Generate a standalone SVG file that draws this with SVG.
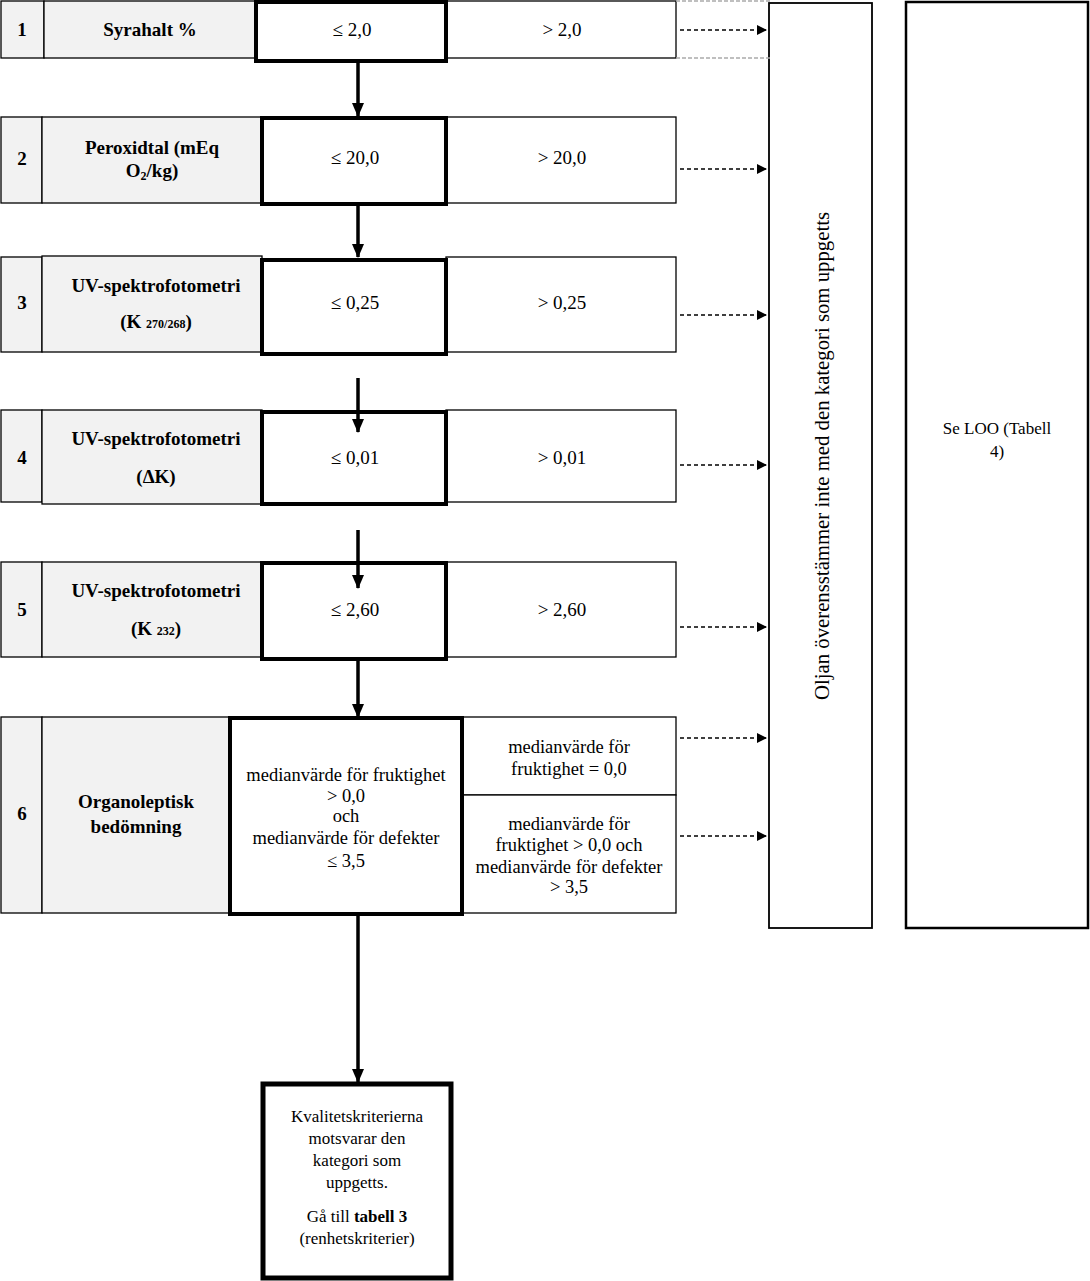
<svg xmlns="http://www.w3.org/2000/svg" width="1090" height="1281" viewBox="0 0 1090 1281">
<style>
text{font-family:"Liberation Serif","Times New Roman",serif;fill:#000;text-anchor:middle}
.b{font-weight:bold}
.t17{font-size:17px}
.t19{font-size:19px}
.t18{font-size:18.5px}
.t14{font-size:18.5px}
.num{fill:#f2f2f2;stroke:#000;stroke-width:1.3}
.lab{fill:#f2f2f2;stroke:#000;stroke-width:1.3}
.cell{fill:#fff;stroke:#000;stroke-width:1.3}
.bold{fill:#fff;stroke:#000;stroke-width:4}
.dash{stroke:#000;stroke-width:1.3;stroke-dasharray:4,3;fill:none}
.gd{stroke:#aaa;stroke-width:1.3;stroke-dasharray:4,2;fill:none}
.flow{stroke:#000;stroke-width:3.5;fill:none}
</style>
<defs>
<marker id="ah" markerWidth="10" markerHeight="10" refX="9" refY="5" orient="auto" markerUnits="userSpaceOnUse">
<path d="M0,0 L10,5 L0,10 Z" fill="#000"/>
</marker>
<marker id="big" markerWidth="14" markerHeight="14" refX="13" refY="7" orient="auto" markerUnits="userSpaceOnUse">
<path d="M0,1 L14,7 L0,13 Z" fill="#000"/>
</marker>
</defs>

<g id="node-oljan">
<rect x="769" y="3" width="103" height="925" fill="#fff" stroke="#000" stroke-width="1.8"/>
<text font-size="20" transform="translate(829,456) rotate(-90)" textLength="488" lengthAdjust="spacingAndGlyphs">Oljan överensstämmer inte med den kategori som uppgetts</text>
</g>
<g id="node-seloo">
<rect x="906" y="2" width="182" height="926" fill="#fff" stroke="#000" stroke-width="2.5"/>
<text class="t17" x="997" y="434">Se LOO (Tabell</text>
<text class="t17" x="997" y="457">4)</text>
</g>

<g id="row1">
<rect class="num" x="1" y="1" width="43" height="57"/>
<rect class="lab" x="44" y="1" width="211" height="57"/>
<rect class="cell" x="446" y="1" width="230" height="57"/>
<rect class="bold" x="256" y="2" width="190" height="59"/>
<text class="t19 b" x="22" y="36">1</text>
<text class="t19 b" x="150" y="36">Syrahalt %</text>
<text class="t19" x="352" y="36">≤ 2,0</text>
<text class="t19" x="562" y="36">&gt; 2,0</text>
</g>

<g id="row2">
<rect class="num" x="1" y="117" width="41" height="86"/>
<rect class="lab" x="42" y="117" width="220" height="86"/>
<rect class="cell" x="446" y="117" width="230" height="86"/>
<rect class="bold" x="262" y="118" width="184" height="86"/>
<text class="t19 b" x="22" y="165">2</text>
<text class="t19 b" x="152" y="154">Peroxidtal (mEq</text>
<text class="t19 b" x="152" y="177">O<tspan font-size="12" dy="3">2</tspan><tspan dy="-3">/kg)</tspan></text>
<text class="t19" x="355" y="164">≤ 20,0</text>
<text class="t19" x="562" y="164">&gt; 20,0</text>
</g>

<g id="row3">
<rect class="num" x="1" y="257" width="41" height="95"/>
<rect class="lab" x="42" y="256" width="220" height="96"/>
<rect class="cell" x="446" y="257" width="230" height="95"/>
<rect class="bold" x="262" y="260" width="184" height="94"/>
<text class="t19 b" x="22" y="309">3</text>
<text class="t19 b" x="156" y="292">UV-spektrofotometri</text>
<text class="t19 b" x="156" y="328">(K <tspan font-size="12">270/268</tspan>)</text>
<text class="t19" x="355" y="309">≤ 0,25</text>
<text class="t19" x="562" y="309">&gt; 0,25</text>
</g>

<g id="row4">
<rect class="num" x="1" y="410" width="41" height="92"/>
<rect class="lab" x="42" y="410" width="220" height="94"/>
<rect class="cell" x="446" y="410" width="230" height="92"/>
<rect class="bold" x="262" y="412" width="184" height="92"/>
<text class="t19 b" x="22" y="464">4</text>
<text class="t19 b" x="156" y="445">UV-spektrofotometri</text>
<text class="t19 b" x="156" y="483">(ΔK)</text>
<text class="t19" x="355" y="464">≤ 0,01</text>
<text class="t19" x="562" y="464">&gt; 0,01</text>
</g>

<g id="row5">
<rect class="num" x="1" y="562" width="41" height="95"/>
<rect class="lab" x="42" y="562" width="220" height="95"/>
<rect class="cell" x="446" y="562" width="230" height="95"/>
<rect class="bold" x="262" y="563" width="184" height="96"/>
<text class="t19 b" x="22" y="616">5</text>
<text class="t19 b" x="156" y="597">UV-spektrofotometri</text>
<text class="t19 b" x="156" y="635">(K <tspan font-size="12">232</tspan>)</text>
<text class="t19" x="355" y="616">≤ 2,60</text>
<text class="t19" x="562" y="616">&gt; 2,60</text>
</g>

<g id="row6">
<rect class="num" x="1" y="717" width="41" height="196"/>
<rect class="lab" x="42" y="717" width="187" height="196"/>
<rect class="cell" x="462" y="717" width="214" height="78"/>
<rect class="cell" x="462" y="795" width="214" height="118"/>
<rect class="bold" x="230" y="718" width="232" height="196"/>
<text class="t19 b" x="22" y="820">6</text>
<text class="t19 b" x="136" y="808">Organoleptisk</text>
<text class="t19 b" x="136" y="833">bedömning</text>
<text class="t18" x="346" y="781">medianvärde för fruktighet</text>
<text class="t18" x="346" y="802">&gt; 0,0</text>
<text class="t18" x="346" y="822">och</text>
<text class="t18" x="346" y="844">medianvärde för defekter</text>
<text class="t18" x="346" y="867">≤ 3,5</text>
<text class="t14" x="569" y="753">medianvärde för</text>
<text class="t14" x="569" y="775">fruktighet = 0,0</text>
<text class="t14" x="569" y="830">medianvärde för</text>
<text class="t14" x="569" y="851">fruktighet &gt; 0,0 och</text>
<text class="t14" x="569" y="873">medianvärde för defekter</text>
<text class="t14" x="569" y="893">&gt; 3,5</text>
</g>

<g id="final">
<rect x="263" y="1084" width="188" height="194" fill="#fff" stroke="#000" stroke-width="5"/>
<text class="t17" x="357" y="1122">Kvalitetskriterierna</text>
<text class="t17" x="357" y="1144">motsvarar den</text>
<text class="t17" x="357" y="1166">kategori som</text>
<text class="t17" x="357" y="1188">uppgetts.</text>
<text class="t17" x="357" y="1222">Gå till <tspan class="b">tabell 3</tspan></text>
<text class="t17" x="357" y="1244">(renhetskriterier)</text>
</g>

<g id="connectors">
<path class="gd" d="M676,1 H770 M676,58 H770"/>
<path class="flow" d="M358,62 V116" marker-end="url(#big)"/>
<path class="flow" d="M358,205 V257" marker-end="url(#big)"/>
<path class="flow" d="M358,378 V432" marker-end="url(#big)"/>
<path class="flow" d="M358,530 V588" marker-end="url(#big)"/>
<path class="flow" d="M358,660 V717" marker-end="url(#big)"/>
<path class="flow" d="M358,916 V1082" marker-end="url(#big)"/>
<path class="dash" d="M680,30 H766" marker-end="url(#ah)"/>
<path class="dash" d="M680,169 H766" marker-end="url(#ah)"/>
<path class="dash" d="M680,315 H766" marker-end="url(#ah)"/>
<path class="dash" d="M680,465 H766" marker-end="url(#ah)"/>
<path class="dash" d="M680,627 H766" marker-end="url(#ah)"/>
<path class="dash" d="M680,738 H766" marker-end="url(#ah)"/>
<path class="dash" d="M680,836 H766" marker-end="url(#ah)"/>
</g>
</svg>
